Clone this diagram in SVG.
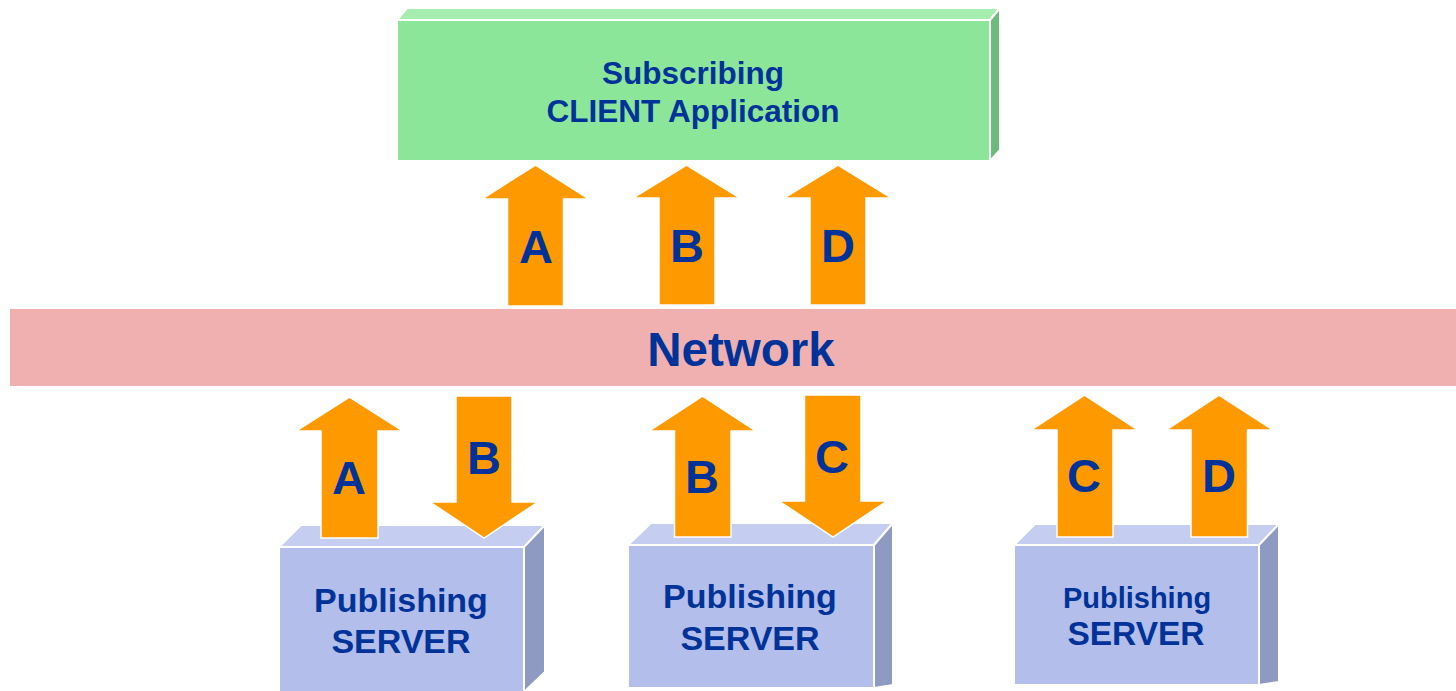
<svg xmlns="http://www.w3.org/2000/svg" width="1456" height="691" viewBox="0 0 1456 691">
  <style>
    .t { font-family: "Liberation Sans", Arial, sans-serif; font-weight: bold; fill: #003399; text-anchor: middle; }
    .arrow { fill: #FF9900; stroke: #FFFFFF; stroke-width: 1.5; stroke-linejoin: miter; }
    .gf { fill: #8CE69A; stroke: #FFFFFF; stroke-width: 2; }
    .gt { fill: #A6EDB0; stroke: #FFFFFF; stroke-width: 2; }
    .gr { fill: #6CBA7C; stroke: #FFFFFF; stroke-width: 2; }
    .bf { fill: #B3BEEA; stroke: #FFFFFF; stroke-width: 2; }
    .bt { fill: #C5CDF1; stroke: #FFFFFF; stroke-width: 2; }
    .br { fill: #8F9AC2; stroke: #FFFFFF; stroke-width: 2; }
  </style>
  <rect width="1456" height="691" fill="#FFFFFF"/>

  <g id="client">
    <polygon class="gt" points="397,20 407,8 1000,8 990,20"/>
    <polygon class="gr" points="990,20 1000,8 1000,150 990,161"/>
    <rect class="gf" x="397" y="20" width="593" height="141"/>
    <text class="t" x="693" y="84" font-size="31.5">Subscribing</text>
    <text class="t" x="693" y="122" font-size="31.5">CLIENT Application</text>
  </g>

  <g id="network">
    <rect x="10" y="309" width="1446" height="77" fill="#F0B0B0"/>
    <text class="t" x="741" y="366" font-size="47.5">Network</text>
  </g>

  <g id="server1">
    <polygon class="bt" points="279,547 301,525 545,525 524,547"/>
    <polygon class="br" points="524,547 545,525 545,672 524,692"/>
    <rect class="bf" x="279" y="547" width="245" height="146"/>
    <text class="t" x="401" y="612" font-size="34">Publishing</text>
    <text class="t" x="401" y="653" font-size="34">SERVER</text>
  </g>

  <g id="server2">
    <polygon class="bt" points="628,545 651,523 893,523 874,545"/>
    <polygon class="br" points="874,545 893,523 893,685 874,688"/>
    <rect class="bf" x="628" y="545" width="246" height="143"/>
    <text class="t" x="750" y="608" font-size="34">Publishing</text>
    <text class="t" x="750" y="650" font-size="34">SERVER</text>
  </g>

  <g id="server3">
    <polygon class="bt" points="1014,545 1035,524 1279,524 1259,545"/>
    <polygon class="br" points="1259,545 1279,524 1279,682 1259,685"/>
    <rect class="bf" x="1014" y="545" width="245" height="140"/>
    <text class="t" x="1137" y="608" font-size="29">Publishing</text>
    <text class="t" x="1136" y="645" font-size="33.5">SERVER</text>
  </g>

  <g id="connectors">
    <polygon class="arrow" points="535.5,165 589,199 563.5,199 563.5,306 507.5,306 507.5,199 482,199"/>
    <text class="t" x="536" y="263" font-size="47">A</text>
    <polygon class="arrow" points="686.5,165 740,198 715,198 715,305 659,305 659,198 633,198"/>
    <text class="t" x="687" y="262" font-size="47">B</text>
    <polygon class="arrow" points="838,165 891.5,198 866,198 866,305 810,305 810,198 784,198"/>
    <text class="t" x="838" y="262" font-size="47">D</text>

    <polygon class="arrow" points="349.5,397 403,431 378,431 378,538 321,538 321,431 296,431"/>
    <text class="t" x="349" y="494" font-size="47">A</text>
    <polygon class="arrow" points="456,396 512,396 512,502 538,502 484,538 430,502 456,502"/>
    <text class="t" x="484" y="474" font-size="47">B</text>

    <polygon class="arrow" points="702.5,396 756,431 731,431 731,537 674.5,537 674.5,431 649,431"/>
    <text class="t" x="702" y="493" font-size="47">B</text>
    <polygon class="arrow" points="804.5,395 861,395 861,501 887,501 833,537 779,501 804.5,501"/>
    <text class="t" x="832" y="473" font-size="47">C</text>

    <polygon class="arrow" points="1084.5,395 1138,430 1113,430 1113,537 1057,537 1057,430 1031,430"/>
    <text class="t" x="1084" y="492" font-size="47">C</text>
    <polygon class="arrow" points="1219,395 1273,430 1247.5,430 1247.5,537 1191,537 1191,430 1166,430"/>
    <text class="t" x="1219" y="492" font-size="47">D</text>
  </g>
</svg>
